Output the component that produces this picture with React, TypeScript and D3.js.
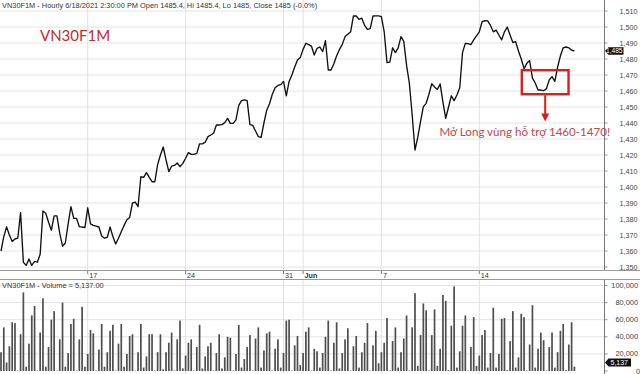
import React from "react";
import * as d3 from "d3";

const W = 640;
const H = 374;

// Hourly closes, 7 slots per trading day (May 11 13:00 .. Jun 18 14:30)
const closes: number[] = [
  1360, 1369, 1375, 1370, 1366, 1367.5, 1368, 1384, 1353, 1351,
  1355, 1351, 1353.5, 1353, 1358, 1385, 1383.6, 1378, 1373, 1382,
  1382, 1371, 1363, 1365, 1377, 1387.7, 1380.4, 1380.4, 1375.2, 1375,
  1374.6, 1387, 1377, 1376, 1375.6, 1375, 1369.4, 1368, 1368.6, 1375,
  1369, 1364.4, 1368, 1372, 1376, 1379.5, 1381, 1390, 1390.6, 1387.7,
  1406.4, 1406, 1409, 1406, 1403.3, 1403.3, 1414, 1420, 1425, 1417,
  1409.6, 1413, 1413.5, 1415, 1412.7, 1414.8, 1418, 1421.5, 1420.4, 1420.4,
  1421, 1427, 1427, 1428, 1431.5, 1432.5, 1433.6, 1438.75, 1438.75, 1439,
  1440.2, 1442.9, 1439.8, 1439.8, 1442, 1451, 1454, 1454.4, 1454, 1439,
  1438.5, 1435, 1431.5, 1431, 1440, 1448, 1452, 1458, 1462, 1463.5,
  1464, 1466, 1457, 1466, 1470, 1475, 1479.4, 1481, 1486, 1489.8,
  1489, 1488, 1482.5, 1486.7, 1487.5, 1484.6, 1491.5, 1473.1, 1473.1, 1477,
  1482, 1486, 1489, 1494, 1495.5, 1497, 1506.9, 1506.9, 1504.8, 1505.5,
  1501, 1498.5, 1499, 1506.9, 1507, 1507, 1506.5, 1497, 1477.7, 1478,
  1487, 1484, 1487, 1494, 1491, 1476, 1464.8, 1445, 1423.1, 1431,
  1441, 1450.2, 1452.3, 1458, 1464.5, 1462.5, 1461, 1464.4, 1453, 1442.9,
  1450, 1457, 1454, 1457.5, 1462, 1484, 1489.8, 1489.6, 1489, 1492,
  1494.5, 1497, 1503.3, 1503.9, 1503.8, 1501, 1497, 1498, 1495, 1492,
  1497, 1500, 1495, 1490.3, 1490.8, 1485, 1480, 1474, 1477.3, 1479,
  1468, 1465, 1460.6, 1460.6, 1460.2, 1461.5, 1466.9, 1469, 1466, 1475,
  1482, 1487, 1487.5, 1487, 1485.5, 1485,
];

// Hourly volume, thousands of contracts
const volumesK: number[] = [
  22, 51, 10, 29, 57, 56, 0.5, 43, 92, 5,
  32, 65, 76, 0.5, 45, 85, 5, 28, 60, 70,
  0.5, 37, 80, 5, 21, 55, 61, 0.5, 37, 75,
  5, 20, 48, 44, 0.5, 25, 55, 5, 22, 47,
  54, 0.5, 32, 55, 5, 20, 41, 43, 0.5, 22,
  55, 4, 17, 43, 43, 0.5, 22, 43, 2, 22,
  33, 45, 0.5, 37, 59, 3, 18, 33, 37, 0.5,
  28, 54, 3, 17, 29, 33, 0.5, 21, 43, 3,
  16, 40, 39, 0.5, 20, 54, 4, 14, 28, 42,
  0.5, 38, 51, 4, 24, 44, 46, 0.5, 26, 37,
  4, 21, 59, 60, 0.5, 30, 41, 7, 21, 46,
  51, 0.5, 26, 23, 4, 21, 40, 59, 0.5, 33,
  57, 3, 21, 37, 50, 0.5, 29, 41, 4, 22,
  33, 56, 0.5, 30, 47, 9, 22, 33, 62, 0.5,
  35, 51, 4, 22, 38, 65, 0.5, 51, 91, 6,
  42, 79, 71, 0.5, 42, 72, 6, 26, 89, 82,
  1, 53, 99, 4, 23, 53, 65, 0.5, 28, 63,
  6, 18, 42, 48, 4, 21, 74, 4, 20, 61,
  62, 1, 35, 70, 4, 16, 67, 63, 0.5, 31,
  77, 4, 26, 45, 36, 0.5, 28, 45, 4, 22,
  47, 55, 1, 31, 57, 5.137,
];

// Date ticks: bar index of the first bar of each labelled day
const dateTickIdx: number[] = [31, 66, 101, 108, 136, 171];
const dateTickLabels: string[] = ["17", "24", "31", "Jun", "7", "14"];

const priceTicks: number[] = d3.range(1350, 1511, 10);
const volumeTicks: number[] = [0, 20000, 40000, 60000, 80000, 100000];

const lastClose = 1485;
const lastVolume = 5137;
const supportZone: [number, number] = [1458, 1473];
const supportIdx: [number, number] = [186.2, 202.9];
const arrowTip = 1441;

const fmt = d3.format(",");

export default function App() {
  const plotRight = 604.5;
  const x = d3.scaleLinear().domain([0, 205]).range([1, 574.4]);
  const y = d3.scaleLinear().domain([1350, 1510]).range([267, 11]);
  const yv = d3.scaleLinear().domain([0, 100000]).range([371, 285.5]);

  const line = d3
    .line<number>()
    .x((_, i) => x(i))
    .y((d) => y(d));

  const axisFont = "'Liberation Sans', Arial, sans-serif";
  const redFont = "Lato, 'Open Sans', sans-serif";

  const rx0 = x(supportIdx[0]);
  const rx1 = x(supportIdx[1]);
  const ry0 = y(supportZone[1]);
  const ry1 = y(supportZone[0]);
  const arrowX = (rx0 + rx1) / 2;
  const tipY = y(arrowTip);

  const badgeY = y(lastClose);
  const vBadgeY = yv(lastVolume) - 4;

  return (
    <svg
      width={W}
      height={H}
      style={{ position: "absolute", left: 0, top: 0, background: "#fff" }}
    >
      {/* price grid */}
      {priceTicks.map((t) => (
        <line
          key={"pg" + t}
          x1={0}
          x2={plotRight}
          y1={y(t)}
          y2={y(t)}
          stroke="#e4e4e4"
          strokeWidth={1}
        />
      ))}
      {/* volume grid */}
      {volumeTicks.slice(1).map((t) => (
        <line
          key={"vg" + t}
          x1={0}
          x2={plotRight}
          y1={yv(t)}
          y2={yv(t)}
          stroke="#e4e4e4"
          strokeWidth={1}
        />
      ))}
      {/* vertical date grid */}
      {dateTickIdx.map((i) => (
        <g key={"dg" + i}>
          <line x1={x(i)} x2={x(i)} y1={0} y2={270} stroke="#e0e0e0" strokeWidth={1} />
          <line x1={x(i)} x2={x(i)} y1={280} y2={H} stroke="#e0e0e0" strokeWidth={1} />
        </g>
      ))}

      {/* title */}
      <text x={2} y={8} fontFamily={axisFont} fontSize={7.4} fill="#333">
        VN30F1M - Hourly 6/18/2021 2:30:00 PM Open 1485.4, Hi 1485.4, Lo 1485, Close 1485 (-0.0%)
      </text>

      {/* price line */}
      <path d={line(closes) || ""} fill="none" stroke="#111" strokeWidth={1.35} strokeLinejoin="round" />

      {/* date band */}
      <line x1={0} x2={W} y1={270.5} y2={270.5} stroke="#9a9a9a" strokeWidth={1} />
      <line x1={0} x2={W} y1={279.5} y2={279.5} stroke="#9a9a9a" strokeWidth={1} />
      {dateTickIdx.map((i, k) => (
        <g key={"dt" + i}>
          <line x1={x(i)} x2={x(i)} y1={271} y2={274} stroke="#555" strokeWidth={0.8} />
          <text
            x={x(i) + 1.5}
            y={277.5}
            fontFamily={axisFont}
            fontSize={7.2}
            fontWeight={dateTickLabels[k] === "Jun" ? "bold" : "normal"}
            fill="#333"
          >
            {dateTickLabels[k]}
          </text>
        </g>
      ))}

      {/* volume bars */}
      {volumesK.map((v, i) => (
        <rect
          key={"vb" + i}
          x={x(i) - 0.85}
          width={1.7}
          y={yv(v * 1000)}
          height={Math.max(0, yv(0) - yv(v * 1000))}
          fill="#4e4e4e"
        />
      ))}
      <text x={2} y={287.5} fontFamily={axisFont} fontSize={7.4} fill="#333">
        VN30F1M - Volume = 5,137.00
      </text>

      {/* right axis */}
      <line x1={plotRight} x2={plotRight} y1={0} y2={270} stroke="#777" strokeWidth={1} />
      <line x1={plotRight} x2={plotRight} y1={280} y2={H} stroke="#777" strokeWidth={1} />
      {priceTicks.map((t) => (
        <g key={"pt" + t}>
          <line x1={plotRight} x2={plotRight + 3} y1={y(t)} y2={y(t)} stroke="#777" strokeWidth={0.8} />
          <text
            x={637.5}
            y={y(t) + 2.5}
            textAnchor="end"
            fontFamily={axisFont}
            fontSize={7.2}
            fill="#444"
          >
            {fmt(t)}
          </text>
        </g>
      ))}
      {volumeTicks.map((t) => (
        <g key={"vt" + t}>
          <line x1={plotRight} x2={plotRight + 3} y1={yv(t)} y2={yv(t)} stroke="#777" strokeWidth={0.8} />
          <text
            x={t === 0 ? 640 : 638}
            y={yv(t) + 2.5}
            textAnchor="end"
            fontFamily={axisFont}
            fontSize={7.4}
            fill="#444"
          >
            {fmt(t)}
          </text>
        </g>
      ))}

      {/* last price badge */}
      <path
        d={`M${plotRight + 0.5},${badgeY} L${plotRight + 4},${badgeY - 3.8} L623.5,${badgeY - 3.8} L623.5,${badgeY + 3.8} L${plotRight + 4},${badgeY + 3.8} Z`}
        fill="#111"
      />
      <text x={606} y={badgeY + 2.4} fontFamily={axisFont} fontSize={6.6} fill="#fff">
        {fmt(lastClose)}
      </text>
      {/* last volume badge */}
      <path
        d={`M${plotRight + 0.5},${vBadgeY} L${plotRight + 4},${vBadgeY - 4} L631,${vBadgeY - 4} L631,${vBadgeY + 4} L${plotRight + 4},${vBadgeY + 4} Z`}
        fill="#111"
      />
      <text x={610.5} y={vBadgeY + 2.6} fontFamily={axisFont} fontSize={7} fill="#fff">
        {fmt(lastVolume)}
      </text>

      {/* annotations */}
      <text x={40} y={41} fontFamily={redFont} fontSize={15} fill="#cc2a2a">
        VN30F1M
      </text>
      <rect
        x={rx0}
        y={ry0}
        width={rx1 - rx0}
        height={ry1 - ry0}
        fill="none"
        stroke="#e01b1b"
        strokeWidth={2.4}
      />
      <line x1={arrowX} x2={arrowX} y1={ry1 + 1} y2={tipY - 7} stroke="#e01b1b" strokeWidth={2} />
      <path d={`M${arrowX - 4},${tipY - 8} L${arrowX + 4},${tipY - 8} L${arrowX},${tipY} Z`} fill="#e01b1b" />
      <text x={439.5} y={136} fontFamily={redFont} fontSize={11.6} fill="#c8444c">
        Mở Long vùng hỗ trợ 1460-1470!
      </text>
    </svg>
  );
}
